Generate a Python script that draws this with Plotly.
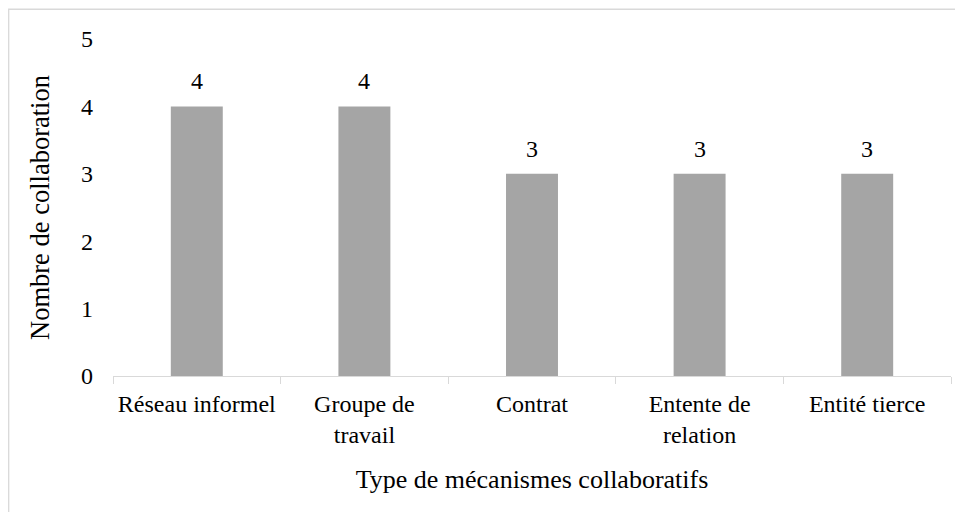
import plotly.graph_objects as go

categories = ["Réseau informel", "Groupe de<br>travail", "Contrat", "Entente de<br>relation", "Entité tierce"]
values = [4, 4, 3, 3, 3]
y_ticks = [0, 1, 2, 3, 4, 5]

FONT = "Liberation Serif, Times New Roman, serif"

fig = go.Figure(go.Bar(
    x=categories, y=values,
    marker=dict(color="#A5A5A5", line=dict(width=0)),
    width=0.31, hoverinfo="x+y",
))

for c, v in zip(categories, values):
    fig.add_annotation(x=c, y=v, text=str(v), showarrow=False,
                       yanchor="bottom", yshift=10,
                       font=dict(family=FONT, size=24, color="#000000"))

L, T = 105, 30.5
PW, PH = 838, 337.5
W, H = 963, 512

fig.update_layout(
    width=W, height=H,
    margin=dict(l=L, r=W - L - PW, t=T, b=H - T - PH, autoexpand=False),
    paper_bgcolor="white", plot_bgcolor="white",
    font=dict(family=FONT, size=24, color="#000000"),
    showlegend=False,
    xaxis=dict(
        showline=True, linecolor="#D9D9D9", linewidth=1.3,
        ticks="outside", tickson="boundaries", ticklen=7, tickcolor="#D9D9D9", tickwidth=1.3,
        ticklabelstandoff=6,
        tickfont=dict(family=FONT, size=24),
        title=dict(text="Type de mécanismes collaboratifs", font=dict(family=FONT, size=26), standoff=22),
    ),
    yaxis=dict(
        range=[0, 5], tickvals=y_ticks, showgrid=False, zeroline=False, showline=False,
        ticks="", ticklabelstandoff=19,
        tickfont=dict(family=FONT, size=24),
        title=dict(text="Nombre de collaboration", font=dict(family=FONT, size=26.5), standoff=23),
    ),
    shapes=[dict(type="rect", xref="paper", yref="paper",
                 x0=(0.7 - L) / PW, x1=(W - 0.7 - L) / PW,
                 y0=-(H - T - PH - 0.7) / PH, y1=(PH + T - 0.7) / PH,
                 line=dict(color="#D9D9D9", width=1.3), fillcolor="rgba(0,0,0,0)")],
)

fig.write_html("out.html")
